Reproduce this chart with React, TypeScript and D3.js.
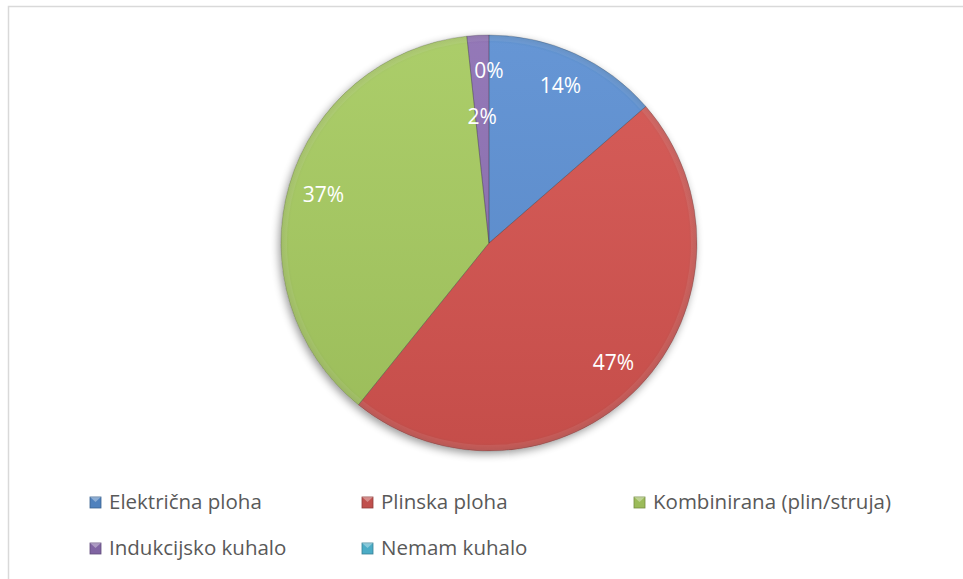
import React from "react";
import * as d3 from "d3";

const categories = [
  "Električna ploha",
  "Plinska ploha",
  "Kombinirana (plin/struja)",
  "Indukcijsko kuhalo",
  "Nemam kuhalo",
];
const values = [13.6, 47.2, 37.5, 1.7, 0];
const labels = ["14%", "47%", "37%", "2%", "0%"];
const colors = ["#4f81bd", "#c0504d", "#9bbb59", "#8064a2", "#4bacc6"];
const lightColors = ["#5b8fd2", "#d45350", "#a6ca61", "#8d6fb3", "#58c0dc"];

const width = 963;
const height = 579;
const cx = 489;
const cy = 243;
const R = 208;

export default function App() {
  const pie = d3.pie<number>().sort(null).value((d) => d);
  const arcs = pie(values);
  const arc = d3.arc<d3.PieArcDatum<number>>().innerRadius(0).outerRadius(R);
  const rim = d3.arc<d3.PieArcDatum<number>>().innerRadius(R - 6).outerRadius(R);

  // legend layout: 3 columns, 2 rows
  const colX = [90, 362, 634];
  const rowY = [509, 555];

  return (
    <svg
      width={width}
      height={height}
      style={{ position: "absolute", left: 0, top: 0 }}
      fontFamily="'Open Sans', 'Noto Sans', sans-serif"
    >
      <defs>
        {colors.map((c, i) => (
          <radialGradient key={i} id={"g" + i} cx={0} cy={0} r={R} gradientUnits="userSpaceOnUse">
            <stop offset="0%" stopColor={lightColors[i]} />
            <stop offset="96%" stopColor={lightColors[i]} />
            <stop offset="100%" stopColor={c} />
          </radialGradient>
        ))}
        <linearGradient id="shade" x1={0} y1={-R} x2={0} y2={R} gradientUnits="userSpaceOnUse">
          <stop offset="0%" stopColor="#fff" stopOpacity={0.06} />
          <stop offset="100%" stopColor="#000" stopOpacity={0.07} />
        </linearGradient>
        <filter id="shadow" x="-20%" y="-20%" width="140%" height="140%">
          <feGaussianBlur in="SourceAlpha" stdDeviation="4" />
          <feOffset dx="-2" dy="3" result="b" />
          <feComponentTransfer>
            <feFuncA type="linear" slope="0.4" />
          </feComponentTransfer>
          <feMerge>
            <feMergeNode />
            <feMergeNode in="SourceGraphic" />
          </feMerge>
        </filter>
      </defs>
      <rect x={8.5} y={6.5} width={width} height={height} fill="#fff" stroke="#d9d9d9" strokeWidth={1.5} />

      <g transform={`translate(${cx},${cy})`}>
        <g filter="url(#shadow)">
          {arcs.map((a, i) =>
            a.value > 0 ? <path key={i} d={arc(a) || ""} fill={`url(#g${i})`} /> : null
          )}
        </g>
        <circle r={R} fill="url(#shade)" />
        {arcs.map((a, i) =>
          a.value > 0 ? <path key={"r" + i} d={rim(a) || ""} fill="#fff" opacity={0.08} /> : null
        )}
        {arcs.map((a, i) =>
          a.value > 0 ? (
            <path
              key={"s" + i}
              d={arc(a) || ""}
              fill="none"
              stroke="rgba(50,50,50,0.3)"
              strokeWidth={0.8}
              strokeLinejoin="round"
            />
          ) : null
        )}
        {arcs.map((a, i) => {
          const mid = (a.startAngle + a.endAngle) / 2;
          // small neighbouring slices: push the non-zero one inward
          const r = values[i] > 0 && values[i] < 3 ? R * 0.61 : R * 0.83;
          const x = Math.sin(mid) * r;
          const y = -Math.cos(mid) * r;
          return (
            <text key={"l" + i} x={x} y={y} dy="0.36em" textAnchor="middle" fill="#fff" fontSize={21}>
              {labels[i]}
            </text>
          );
        })}
      </g>

      {categories.map((c, i) => {
        const x = colX[i % 3];
        const y = rowY[Math.floor(i / 3)];
        return (
          <g key={c}>
            <rect
              x={x}
              y={y - 12}
              width={11}
              height={11}
              fill={colors[i]}
              stroke={d3.color(colors[i])!.darker(0.8).toString()}
              strokeWidth={0.8}
            />
            <path d={`M${x},${y - 12}L${x + 5.5},${y - 7}L${x + 11},${y - 12}Z`} fill="#fff" opacity={0.35} />
            <text x={x + 19} y={y} fontSize={20.5} fill="#595959">
              {c}
            </text>
          </g>
        );
      })}
    </svg>
  );
}
